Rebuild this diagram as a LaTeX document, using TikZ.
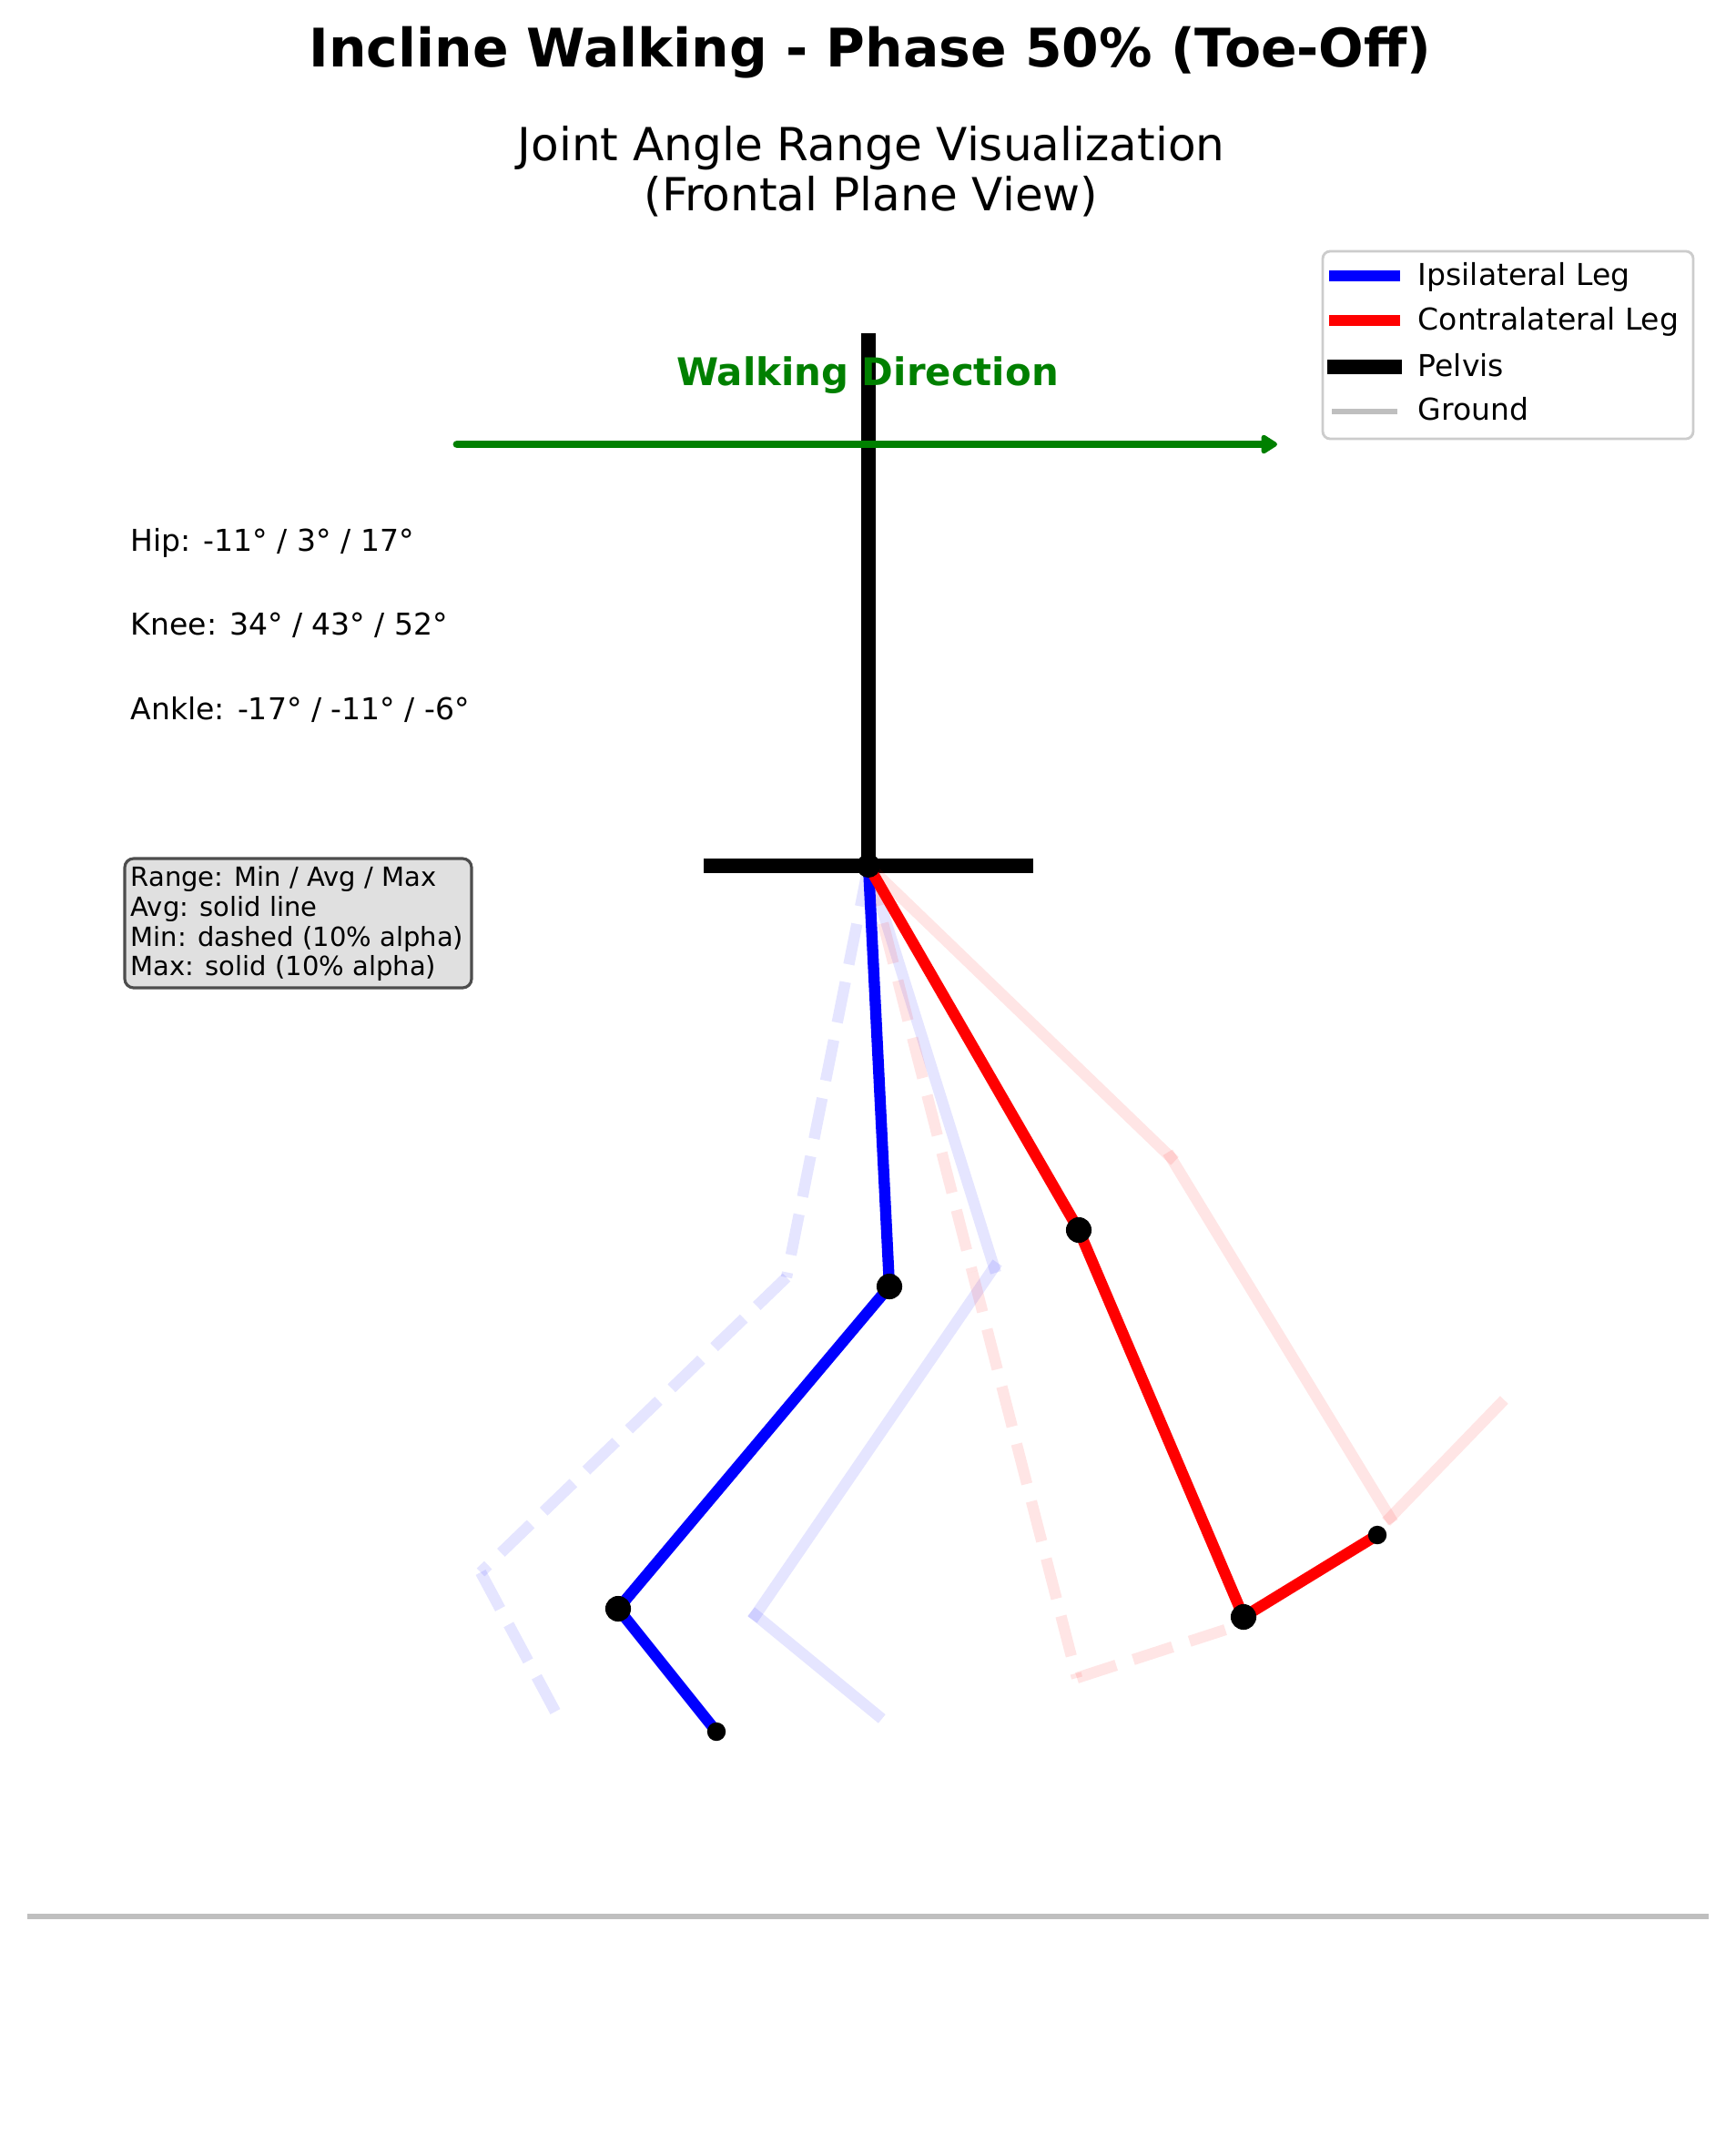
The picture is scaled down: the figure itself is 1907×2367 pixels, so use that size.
\documentclass[tikz,border=0pt]{standalone}
\usepackage{fontspec}
\setmainfont{DejaVu Sans}
\usetikzlibrary{arrows.meta}
\definecolor{ipsi}{RGB}{0,0,255}
\definecolor{contra}{RGB}{255,0,0}
\definecolor{walkgreen}{RGB}{0,128,0}
\definecolor{groundgray}{RGB}{191,191,191}
\definecolor{boxfill}{RGB}{224,224,224}
\definecolor{boxedge}{RGB}{77,77,77}
\definecolor{legedge}{RGB}{204,204,204}
\begin{document}
\begin{tikzpicture}[x=0.01cm,y=-0.01cm,
  seg/.style={line width=3.5pt},
  avgseg/.style={seg, line cap=rect},
  maxseg/.style={seg, line cap=rect, opacity=0.1},
  minseg/.style={seg, line cap=butt, opacity=0.1, dash pattern=on 12.9pt off 5.6pt},
  pelvisline/.style={line width=4.6pt, line cap=rect},
  groundline/.style={groundgray, line width=1.7pt, line cap=rect},
  bigdot/.style={black},
  lbl/.style={inner sep=0pt, anchor=base west, font=\fontsize{9.4}{11}\selectfont},
]
\useasboundingbox (0,0) rectangle (1907,2367);

% titles
\node[inner sep=0pt, anchor=base, font=\fontsize{16.6}{19.9}\selectfont\bfseries] (title) at (956,74) {Incline Walking - Phase 50\% (Toe-Off)};
\node[inner sep=0pt, anchor=base, font=\fontsize{14.25}{17}\selectfont] (sub1) at (957,177) {Joint Angle Range Visualization};
\node[inner sep=0pt, anchor=base, font=\fontsize{14.25}{17}\selectfont] (sub2) at (957,232) {(Frontal Plane View)};

% joints
\coordinate (hip) at (954,951);
\coordinate (pelTop) at (954,374);
\coordinate (pelL) at (781,951);
\coordinate (pelR) at (1127,951);
% ipsilateral avg / min / max
\coordinate (bK) at (977,1413);
\coordinate (bA) at (679,1767);
\coordinate (bT) at (787,1902);
\coordinate (bKmin) at (864,1403);
\coordinate (bAmin) at (528,1727);
\coordinate (bTmin) at (610,1880);
\coordinate (bKmax) at (1092,1392);
\coordinate (bAmax) at (830,1774);
\coordinate (bTmax) at (964,1884);
% contralateral avg / min / max
\coordinate (rK) at (1185,1351);
\coordinate (rA) at (1366,1776);
\coordinate (rT) at (1513,1686);
\coordinate (rKmin) at (1068,1397);
\coordinate (rAmin) at (1183,1843);
\coordinate (rTmin) at (1346,1790);
\coordinate (rKmax) at (1286,1271);
\coordinate (rAmax) at (1527,1667);
\coordinate (rTmax) at (1648,1542);

% ground
\coordinate (gL) at (33,2105);
\coordinate (gR) at (1874,2105);
\draw[groundline] (gL) -- (gR);

% pelvis
\draw[pelvisline] (pelTop) -- (hip);
\draw[pelvisline] (pelL) -- (pelR);

% faint min (dashed) and max (solid)
\draw[ipsi, minseg] (hip) -- (bKmin);
\draw[ipsi, minseg] (bKmin) -- (bAmin);
\draw[ipsi, minseg] (bAmin) -- (bTmin);
\draw[ipsi, maxseg] (hip) -- (bKmax);
\draw[ipsi, maxseg] (bKmax) -- (bAmax);
\draw[ipsi, maxseg] (bAmax) -- (bTmax);
\draw[contra, minseg] (hip) -- (rKmin);
\draw[contra, minseg] (rKmin) -- (rAmin);
\draw[contra, minseg] (rAmin) -- (rTmin);
\draw[contra, maxseg] (hip) -- (rKmax);
\draw[contra, maxseg] (rKmax) -- (rAmax);
\draw[contra, maxseg] (rAmax) -- (rTmax);

% average legs
\draw[ipsi, avgseg] (hip) -- (bK);
\draw[ipsi, avgseg] (bK) -- (bA);
\draw[ipsi, avgseg] (bA) -- (bT);
\draw[contra, avgseg] (hip) -- (rK);
\draw[contra, avgseg] (rK) -- (rA);
\draw[contra, avgseg] (rA) -- (rT);

% joint dots
\fill[bigdot] (hip) circle[radius=3.7pt];
\fill[bigdot] (bK) circle[radius=4.0pt];
\fill[bigdot] (bA) circle[radius=4.0pt];
\fill[bigdot] (bT) circle[radius=2.9pt];
\fill[bigdot] (rK) circle[radius=4.0pt];
\fill[bigdot] (rA) circle[radius=4.0pt];
\fill[bigdot] (rT) circle[radius=2.9pt];

% walking direction
\coordinate (wdS) at (502,488);
\coordinate (wdE) at (1403,488);
\draw[walkgreen, line width=2.5pt, line cap=round, -{Triangle[length=5.6pt,width=6.6pt,round]}] (wdS) -- (wdE);
\node[inner sep=0pt, anchor=base, text=walkgreen, font=\fontsize{11.9}{14.3}\selectfont\bfseries] (wdtext) at (953,424) {Walking Direction};

% angle texts
\node[lbl] (hipt) at (143,605) {Hip: -11° / 3° / 17°};
\node[lbl] (kneet) at (143,697) {Knee: 34° / 43° / 52°};
\node[lbl] (anklet) at (143,790) {Ankle: -17° / -11° / -6°};

% info box
\draw[boxedge, fill=boxfill, line width=0.9pt, rounded corners=2.8pt] (137,943) rectangle (518,1085);
\node[inner sep=0pt, anchor=north west, align=left, font=\fontsize{8.25}{9.3}\selectfont] (info) at (143,951) {Range: Min / Avg / Max\\Avg: solid line\\Min: dashed (10\% alpha)\\Max: solid (10\% alpha)};

% legend
\draw[legedge, fill=white, line width=0.8pt, rounded corners=2.3pt] (1453,276) rectangle (1860,482);
\coordinate (l1a) at (1466,303); \coordinate (l1b) at (1532,303);
\coordinate (l2a) at (1466,352); \coordinate (l2b) at (1532,352);
\coordinate (l3a) at (1466,403); \coordinate (l3b) at (1532,403);
\coordinate (l4a) at (1466,452); \coordinate (l4b) at (1532,452);
\draw[ipsi, avgseg] (l1a) -- (l1b);
\draw[contra, avgseg] (l2a) -- (l2b);
\draw[pelvisline] (l3a) -- (l3b);
\draw[groundline] (l4a) -- (l4b);
\node[lbl] (leg1) at (1557,314) {Ipsilateral Leg};
\node[lbl] (leg2) at (1557,363) {Contralateral Leg};
\node[lbl] (leg3) at (1557,413) {Pelvis};
\node[lbl] (leg4) at (1557,462) {Ground};
\end{tikzpicture}
\end{document}
